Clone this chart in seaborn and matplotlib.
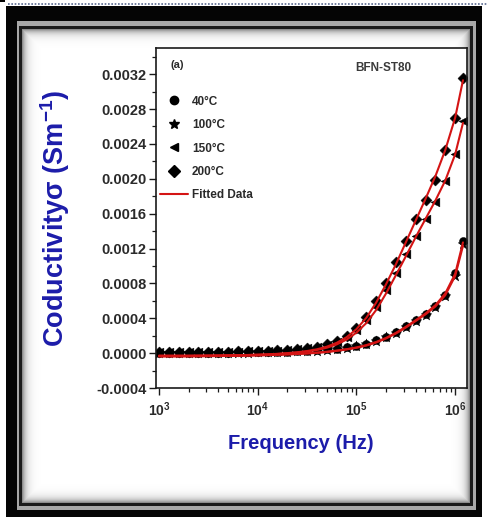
import numpy as np
import pandas as pd
import matplotlib
matplotlib.use("Agg")
import matplotlib.pyplot as plt
import seaborn as sns
from matplotlib.patches import Rectangle
from matplotlib.lines import Line2D
from matplotlib.ticker import AutoMinorLocator, LogLocator, FixedLocator, FixedFormatter, NullFormatter

# ---------------- data (conductivity in units of 1e-4 S/m) ----------------
freq_hz = [1000, 1259, 1585, 1995, 2512, 3162, 3981, 5012, 6310, 7943,
           10000, 12589, 15849, 19953, 25119, 31623, 39811, 50119, 63096, 79433,
           100000, 125893, 158489, 199526, 251189, 316228, 398107, 501187, 630957, 794328,
           1000000, 1200000]

temps = ["40°C", "100°C", "150°C", "200°C"]

sigma_40 = [0.05, 0.05, 0.05, 0.05, 0.05, 0.06, 0.06, 0.07, 0.08, 0.09,
            0.10, 0.12, 0.14, 0.17, 0.21, 0.26, 0.33, 0.42, 0.53, 0.67,
            0.85, 1.10, 1.45, 1.90, 2.45, 3.10, 3.80, 4.50, 5.40, 6.70,
            9.20, 12.9]
sigma_100 = [0.03, 0.03, 0.03, 0.04, 0.04, 0.04, 0.05, 0.05, 0.06, 0.07,
             0.08, 0.10, 0.12, 0.15, 0.19, 0.24, 0.30, 0.38, 0.49, 0.62,
             0.80, 1.04, 1.38, 1.82, 2.36, 3.00, 3.70, 4.40, 5.25, 6.50,
             8.90, 12.5]
sigma_150 = [0.10, 0.10, 0.10, 0.10, 0.10, 0.10, 0.10, 0.15, 0.15, 0.20,
             0.20, 0.25, 0.30, 0.35, 0.45, 0.55, 0.70, 0.90, 1.30, 1.90,
             2.70, 3.80, 5.30, 7.20, 9.20, 11.4, 13.4, 15.4, 17.3, 19.7,
             22.8, 26.6]
sigma_200 = [0.10, 0.10, 0.10, 0.10, 0.10, 0.10, 0.15, 0.15, 0.20, 0.20,
             0.25, 0.30, 0.35, 0.40, 0.50, 0.60, 0.75, 1.00, 1.40, 2.00,
             2.90, 4.20, 6.00, 8.10, 10.4, 12.9, 15.4, 17.6, 19.9, 23.3,
             27.0, 31.6]

fit_40 = [-0.35, -0.35, -0.35, -0.35, -0.34, -0.33, -0.32, -0.30, -0.28, -0.26,
          -0.24, -0.21, -0.17, -0.13, -0.08, -0.02, 0.06, 0.16, 0.29, 0.45,
          0.65, 0.92, 1.28, 1.75, 2.33, 3.02, 3.78, 4.55, 5.50, 6.85,
          9.10, 12.7]
fit_100 = [-0.38, -0.38, -0.38, -0.37, -0.36, -0.35, -0.34, -0.32, -0.30, -0.28,
           -0.26, -0.23, -0.19, -0.15, -0.10, -0.04, 0.03, 0.13, 0.26, 0.42,
           0.61, 0.87, 1.22, 1.68, 2.25, 2.93, 3.68, 4.45, 5.35, 6.65,
           8.85, 12.3]
fit_150 = [-0.30, -0.30, -0.30, -0.30, -0.29, -0.28, -0.27, -0.26, -0.24, -0.22,
           -0.19, -0.15, -0.10, -0.03, 0.06, 0.18, 0.36, 0.62, 1.00, 1.55,
           2.35, 3.45, 4.95, 6.85, 8.95, 11.1, 13.3, 15.4, 17.5, 19.8,
           22.8, 26.4]
fit_200 = [-0.30, -0.30, -0.30, -0.30, -0.29, -0.28, -0.27, -0.25, -0.23, -0.21,
           -0.18, -0.14, -0.08, 0.00, 0.10, 0.24, 0.44, 0.74, 1.18, 1.82,
           2.75, 4.05, 5.80, 7.90, 10.2, 12.7, 15.2, 17.7, 20.3, 23.3,
           27.0, 31.3]

y_ticks = [-0.0004, 0.0000, 0.0004, 0.0008, 0.0012, 0.0016, 0.0020, 0.0024, 0.0028, 0.0032]
x_ticks = [1e3, 1e4, 1e5, 1e6]
x_ticklabels = ["10$^{3}$", "10$^{4}$", "10$^{5}$", "10$^{6}$"]

SCALE = 1e-4
data_series = [sigma_40, sigma_100, sigma_150, sigma_200]
fit_series = [fit_40, fit_100, fit_150, fit_200]

df = pd.concat([pd.DataFrame({"freq": freq_hz, "sigma": np.array(s) * SCALE, "temp": t})
                for s, t in zip(data_series, temps)], ignore_index=True)
df_fit = pd.concat([pd.DataFrame({"freq": freq_hz, "sigma": np.array(s) * SCALE, "temp": t})
                    for s, t in zip(fit_series, temps)], ignore_index=True)

# ---------------- style ----------------
sns.set_theme(style="white")
plt.rcParams["font.family"] = ["Liberation Sans", "DejaVu Sans"]
plt.rcParams["font.weight"] = "bold"
plt.rcParams["axes.labelweight"] = "bold"
plt.rcParams["axes.unicode_minus"] = False
plt.rcParams["mathtext.fontset"] = "custom"
plt.rcParams["mathtext.rm"] = "Liberation Sans:bold"
plt.rcParams["mathtext.bf"] = "Liberation Sans:bold"
plt.rcParams["mathtext.it"] = "Liberation Sans:bold"
plt.rcParams["mathtext.default"] = "bf"

W, H = 487, 521
fig = plt.figure(figsize=(W / 100, H / 100), dpi=100)
fig.patch.set_facecolor("white")


def frac(x0, y0, x1, y1):
    return [x0 / W, 1 - y1 / H, (x1 - x0) / W, (y1 - y0) / H]


def add_rect(x0, y0, x1, y1, color, z):
    l, b, w, h = frac(x0, y0, x1, y1)
    fig.add_artist(Rectangle((l, b), w, h, transform=fig.transFigure,
                             facecolor=color, edgecolor="none", zorder=z))


# decorative frame
fig.add_artist(Line2D([8 / W, 1], [1 - 4 / H, 1 - 4 / H], transform=fig.transFigure,
                      color="#5a6a90", lw=1.2, ls=(0, (1, 1)), zorder=-3))
add_rect(0, 0, 5, 2, "black", -3)
add_rect(6, 6, 482, 517, "#050505", -3)
add_rect(17, 21, 476, 510, "#a8a8a8", -3)
add_rect(19, 26, 473, 506, "#1a1a1a", -3)

# vignette panel
pl, pb, pw, ph = frac(22, 29, 470, 503)
bg = fig.add_axes([pl, pb, pw, ph], zorder=0)
ny, nx = 474, 448
yy, xx = np.mgrid[0:ny, 0:nx]
d = np.minimum(np.minimum(xx, nx - 1 - xx), np.minimum(yy, ny - 1 - yy)).astype(float)
shade = 1 - 0.45 * np.exp(-d / 4.0)
bg.imshow(shade, cmap="gray", vmin=0, vmax=1, aspect="auto", interpolation="bilinear")
bg.set_axis_off()

# main axes
ax = fig.add_axes(frac(156, 48, 467, 388), zorder=1)
ax.set_facecolor("white")

markers = {"40°C": "o", "100°C": "*", "150°C": "<", "200°C": "D"}
sizes = {"40°C": 34, "100°C": 64, "150°C": 40, "200°C": 32}
for t in temps:
    sub = df[df["temp"] == t]
    sns.scatterplot(data=sub, x="freq", y="sigma", marker=markers[t], s=sizes[t],
                    color="black", edgecolor="black", linewidth=0.3, ax=ax,
                    legend=False, zorder=2)

sns.lineplot(data=df_fit, x="freq", y="sigma", units="temp", estimator=None,
             color="#d41414", lw=1.5, ax=ax, legend=False, sort=False, zorder=3)

ax.set_xscale("log")
ax.set_xlim(933, 1.318e6)
ax.set_ylim(-0.0004, 0.0035)

ax.yaxis.set_major_locator(FixedLocator(y_ticks))
ax.set_yticklabels([f"{v:.4f}" for v in y_ticks])
ax.yaxis.set_minor_locator(AutoMinorLocator(2))
ax.xaxis.set_major_locator(FixedLocator(x_ticks))
ax.xaxis.set_major_formatter(FixedFormatter(x_ticklabels))
ax.xaxis.set_minor_locator(LogLocator(base=10, subs=np.arange(2, 10), numticks=20))
ax.xaxis.set_minor_formatter(NullFormatter())

ax.tick_params(which="major", direction="out", length=5, width=1, colors="#1a1a1a",
               left=True, bottom=True, top=False, right=False, labelsize=10.5, pad=2)
ax.tick_params(which="minor", direction="out", length=3, width=0.9, colors="#1a1a1a",
               left=True, bottom=True, top=False, right=False)
ax.tick_params(axis="x", which="major", labelsize=10, pad=4)
for lab in ax.get_xticklabels() + ax.get_yticklabels():
    lab.set_color("#2a2a2a")
    lab.set_fontweight("bold")

for sp in ax.spines.values():
    sp.set_color("#1a1a1a")
    sp.set_linewidth(1.2)

ax.set_xlabel("Frequency (Hz)", color="#1c1caa", fontsize=14.5, fontweight="bold", labelpad=6)
ax.set_ylabel("Coductivityσ (Sm$^{-1}$)", color="#1c1caa", fontsize=19.5, fontweight="bold",
              labelpad=6)
ax.xaxis.set_label_coords(0.466, -0.135)
ax.yaxis.set_label_coords(-0.27, 0.5)

ax.text(0.068, 0.95, "(a)", transform=ax.transAxes, fontsize=8, fontweight="bold",
        color="#2a2a2a", ha="center", va="center")
ax.text(0.73, 0.941, "BFN-ST80", transform=ax.transAxes, fontsize=8.5, fontweight="bold",
        color="#3a3a3a", ha="center", va="center")

handles = [Line2D([], [], ls="none", marker=markers[t], color="black",
                  markersize=(7.5 if t == "100°C" else 6), label=t) for t in temps]
handles.append(Line2D([], [], color="#d41414", lw=1.5, label="Fitted Data"))
leg = ax.legend(handles=handles, loc="upper left", bbox_to_anchor=(0.013, 0.86),
                frameon=False, fontsize=8.5, borderpad=0, borderaxespad=0,
                handlelength=2.35, handletextpad=0.35, labelspacing=0.97)
for txt in leg.get_texts():
    txt.set_color("#2a2a2a")
    txt.set_fontweight("bold")

fig.savefig("out.png", dpi=100, facecolor=fig.get_facecolor())
